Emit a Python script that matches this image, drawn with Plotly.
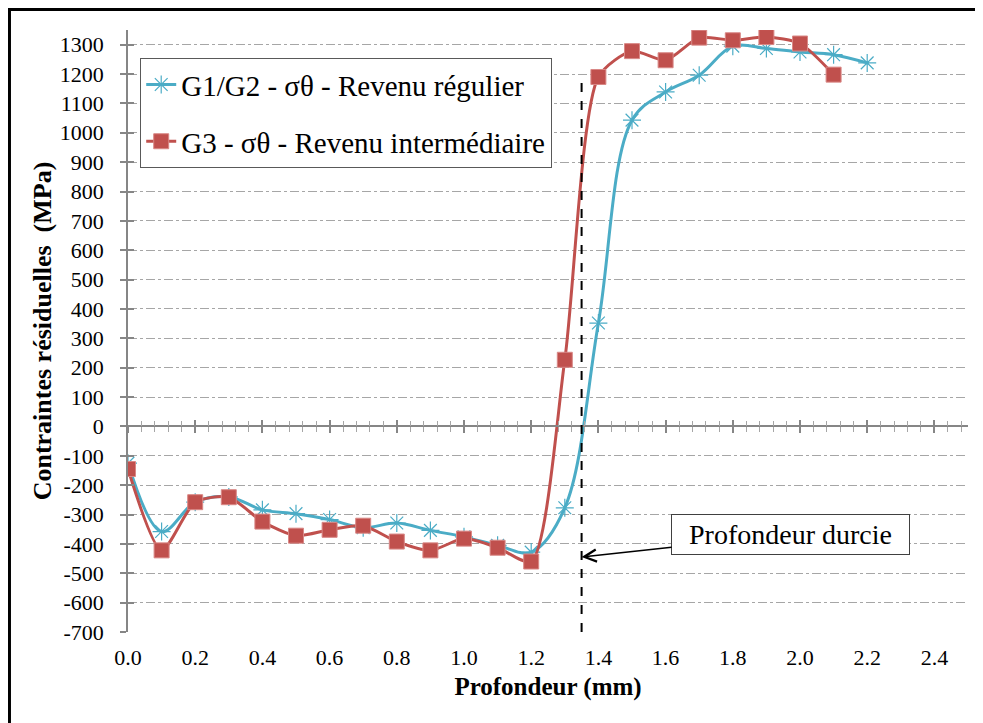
import plotly.graph_objects as go

# profondeur (mm) and contraintes residuelles (MPa)
prof_g12 = [0.0, 0.1, 0.2, 0.3, 0.4, 0.5, 0.6, 0.7, 0.8, 0.9, 1.0, 1.1,
            1.2, 1.3, 1.4, 1.5, 1.6, 1.7, 1.8, 1.9, 2.0, 2.1, 2.2]
sig_g12 = [-125, -358, -258, -240, -284, -297, -317, -345, -329, -354, -376, -405,
           -428, -277, 352, 1043, 1139, 1196, 1295, 1287, 1275, 1266, 1238]

prof_g3 = [0.0, 0.1, 0.2, 0.3, 0.4, 0.5, 0.6, 0.7, 0.8, 0.9, 1.0, 1.1,
           1.2, 1.3, 1.4, 1.5, 1.6, 1.7, 1.8, 1.9, 2.0, 2.1]
sig_g3 = [-145, -422, -258, -241, -324, -372, -352, -338, -392, -422, -382, -413,
          -460, 227, 1190, 1278, 1247, 1324, 1315, 1326, 1304, 1198]

# y tick labels, written with a plain hyphen like the original
y_ticks = [-700, -600, -500, -400, -300, -200, -100, 0, 100, 200, 300, 400,
           500, 600, 700, 800, 900, 1000, 1100, 1200, 1300]
y_ticktext = [str(v) for v in y_ticks]

# hardened depth marker and arrow target
prof_durcie = 1.35
durcie_top = 1200
fleche_y = -445

x_range = [0, 2.5]
y_range = [-700, 1350]

cyan = "#4BACC6"
red = "#C0504D"
axis_grey = "#868686"
serif = '"Times New Roman", "Liberation Serif", Times, serif'

fig = go.Figure()

fig.add_trace(go.Scatter(
    x=prof_g12, y=sig_g12,
    mode="lines+markers",
    name="G1/G2 - σθ - Revenu régulier",
    legendgroup="a",
    line=dict(color=cyan, width=3, shape="spline", smoothing=1.0),
    marker=dict(symbol="asterisk-open", size=15, line=dict(color=cyan, width=1.2)),
))

fig.add_trace(go.Scatter(
    x=prof_g3, y=sig_g3,
    mode="lines+markers",
    name="G3 - σθ - Revenu intermédiaire",
    legendgroup="b",
    line=dict(color=red, width=3, shape="spline", smoothing=0.7),
    marker=dict(symbol="square", size=15, color=red, line=dict(color="#D98886", width=1)),
))

# empty traces so the extra axes (crossing ticks) get drawn
fig.add_trace(go.Scatter(x=[], y=[], xaxis="x2", yaxis="y", showlegend=False))
fig.add_trace(go.Scatter(x=[], y=[], xaxis="x3", yaxis="y2", showlegend=False))

zero_pos = (0 - y_range[0]) / (y_range[1] - y_range[0])

zero_axis = dict(
    range=x_range, overlaying="x", anchor="free", position=zero_pos,
    showline=True, linecolor=axis_grey, linewidth=1.5,
    tick0=0, dtick=0.2, ticklen=6, tickcolor=axis_grey, tickwidth=1.5,
    minor=dict(dtick=0.04, ticklen=5, tickcolor="#A6A6A6", tickwidth=1),
    showticklabels=False, showgrid=False, zeroline=False,
)

fig.update_layout(
    width=975, height=715,
    margin=dict(l=120, r=15, t=22, b=91),
    paper_bgcolor="white", plot_bgcolor="white",
    font=dict(family=serif, color="black"),
    showlegend=True,
    legend=dict(
        x=0.0143, y=0.9535, xanchor="left", yanchor="top",
        bgcolor="white", bordercolor="#595959", borderwidth=1.2,
        font=dict(family=serif, size=29, color="black"),
        tracegroupgap=16, itemwidth=30,
    ),
    xaxis=dict(
        range=x_range, tick0=0, dtick=0.2, tickformat=".1f",
        showgrid=False, zeroline=False, showline=False, ticks="",
        tickfont=dict(family=serif, size=22), ticklabelstandoff=10,
        automargin=False,
        title=dict(text="<b>Profondeur (mm)</b>", font=dict(family=serif, size=25), standoff=8),
    ),
    xaxis2=dict(zero_axis, ticks="outside", minor=dict(zero_axis["minor"], ticks="outside")),
    xaxis3=dict(zero_axis, ticks="inside", minor=dict(zero_axis["minor"], ticks="inside")),
    yaxis=dict(
        range=y_range, tickmode="array", tickvals=y_ticks, ticktext=y_ticktext,
        showline=True, linecolor=axis_grey, linewidth=1.5,
        ticks="outside", ticklen=6, tickcolor=axis_grey, tickwidth=1.5,
        showgrid=True, gridcolor="#A6A6A6", gridwidth=1, griddash="dashdot",
        zeroline=False, automargin=False,
        tickfont=dict(family=serif, size=22), ticklabelstandoff=12,
        title=dict(text="<b>Contraintes résiduelles  (MPa)</b>", font=dict(family=serif, size=26), standoff=1),
    ),
    yaxis2=dict(
        range=y_range, tickmode="array", tickvals=y_ticks, overlaying="y", anchor="x", side="left",
        showline=False, ticks="inside", ticklen=6, tickcolor=axis_grey, tickwidth=1.5,
        showticklabels=False, showgrid=False, zeroline=False,
    ),
)

# vertical dashed line at the hardened depth
fig.add_shape(type="line", xref="x", yref="y",
              x0=prof_durcie, x1=prof_durcie, y0=y_range[0], y1=durcie_top,
              line=dict(color="black", width=2, dash="dash"), layer="above")

# outer frame of the chart
fig.add_shape(type="rect", xref="paper", yref="paper",
              x0=-0.1411, x1=1.04, y0=-0.18, y1=1.034,
              line=dict(color="black", width=3), layer="above")

fig.add_annotation(
    x=prof_durcie, y=fleche_y, xref="x", yref="y",
    text="Profondeur durcie",
    font=dict(family=serif, size=28, color="black"),
    showarrow=True, arrowhead=5, arrowsize=1.6, arrowwidth=1.5, arrowcolor="black",
    ax=209, ay=-23,
    bgcolor="white", bordercolor="#404040", borderwidth=1, borderpad=4,
    width=229,
)

fig.write_html("out.html")
